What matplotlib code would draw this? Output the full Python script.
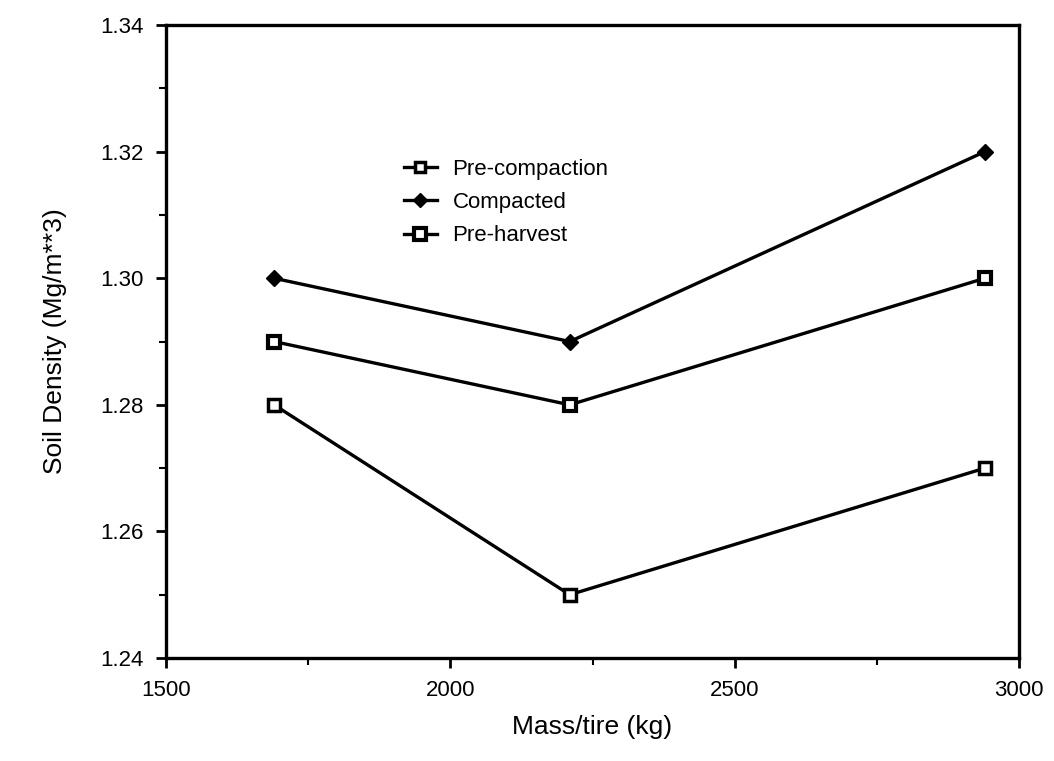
import matplotlib
matplotlib.use("Agg")
import matplotlib.pyplot as plt
from matplotlib.ticker import MultipleLocator, FormatStrFormatter

plt.rcParams['font.family'] = ['Liberation Sans', 'DejaVu Sans']

mass = [1690, 2210, 2940]
pre_compaction = [1.28, 1.25, 1.27]
compacted = [1.30, 1.29, 1.32]
pre_harvest = [1.29, 1.28, 1.30]

fig = plt.figure(figsize=(10.54, 7.61), dpi=100)
ax = fig.add_axes([0.1575, 0.1353, 0.8093, 0.8318])

ax.plot(mass, pre_compaction, color='black', lw=2.4, marker='s', ms=8,
        mfc='white', mec='black', mew=2.5, label='Pre-compaction')
ax.plot(mass, compacted, color='black', lw=2.4, marker='D', ms=8,
        mfc='black', mec='black', label='Compacted')
ax.plot(mass, pre_harvest, color='black', lw=2.4, marker='s', ms=9,
        mfc='white', mec='black', mew=3, label='Pre-harvest')

ax.set_xlim(1500, 3000)
ax.set_ylim(1.24, 1.34)
ax.xaxis.set_major_locator(MultipleLocator(500))
ax.xaxis.set_minor_locator(MultipleLocator(250))
ax.yaxis.set_major_locator(MultipleLocator(0.02))
ax.yaxis.set_minor_locator(MultipleLocator(0.01))
ax.yaxis.set_major_formatter(FormatStrFormatter('%.2f'))

ax.tick_params(which='major', direction='out', length=7, width=2, labelsize=16, pad=9)
ax.tick_params(which='minor', direction='out', length=5, width=1.5)
for s in ax.spines.values():
    s.set_linewidth(2.4)

ax.set_xlabel('Mass/tire (kg)', fontsize=19, labelpad=10)
ax.set_ylabel('Soil Density (Mg/m**3)', fontsize=19, labelpad=24)

leg = ax.legend(loc='upper left', bbox_to_anchor=(0.255, 0.82), frameon=False,
                fontsize=16, handlelength=1.5, labelspacing=0.55, handletextpad=0.7,
                markerscale=0.9)

fig.savefig('out.png', dpi=100)
